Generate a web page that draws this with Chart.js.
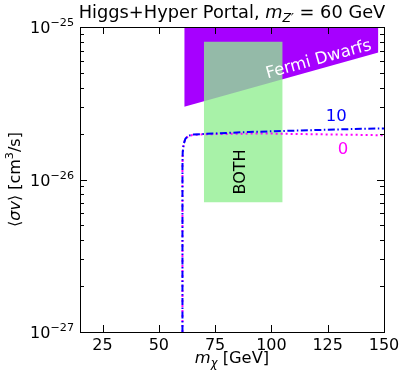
<!DOCTYPE html>
<html>
<head>
    <title>Higgs+Hyper Portal</title>
    <script src="https://cdn.jsdelivr.net/npm/chart.js"></script>
    <style>
        body { margin: 0; background: #fff; }
        #wrap { width: 407px; height: 381px; }
    </style>
</head>
<body>
<div id="wrap"><canvas id="chart"></canvas></div>
<script>
    // dark matter mass grid for the relic curves [GeV]
    const curveMass = [60.5, 60.5, 60.6, 61.0, 61.8, 63.0, 65.0, 70, 80, 90, 100, 110, 120, 130, 140, 150];
    // <sigma v> for kinetic mixing 10 (blue) and 0 (magenta) [cm^3/s]
    const sigmaV10 = [1e-27, 1.2e-26, 1.5e-26, 1.7e-26, 1.85e-26, 1.93e-26, 1.97e-26, 1.99e-26, 2.02e-26, 2.05e-26, 2.07e-26, 2.09e-26, 2.11e-26, 2.13e-26, 2.15e-26, 2.16e-26];
    const sigmaV0  = [1e-27, 1.2e-26, 1.5e-26, 1.7e-26, 1.85e-26, 1.92e-26, 1.96e-26, 1.98e-26, 1.99e-26, 2.0e-26, 2.0e-26, 1.99e-26, 1.98e-26, 1.97e-26, 1.96e-26, 1.95e-26];

    // Fermi dwarfs exclusion lower boundary
    const fermiMass = [61.3, 147.5];
    const fermiLimit = [3.0e-26, 6.8e-26];

    // region allowed by both constraints
    const bothMass = [70, 105];
    const bothLow = 7.1e-27;
    const bothHigh = 8.0e-26;

    const xTicks = [25, 50, 75, 100, 125, 150];
    const yMajor = [1e-27, 1e-26, 1e-25];
    const yExp = ['\u221227', '\u221226', '\u221225'];

    const FONT = 'DejaVu Sans';

    function pts(xs, ys) {
        return xs.map((x, i) => ({x: x, y: ys[i]}));
    }

    // draw a sequence of [text, style] pieces; style: 'n' normal, 'i' italic, 'sub', 'sup', 'isub'
    function drawRich(ctx, pieces, x, y, size, align) {
        const fontFor = s => {
            const small = (s === 'sub' || s === 'sup' || s === 'isub') ? size * 0.7 : size;
            const ital = (s === 'i' || s === 'isub') ? 'italic ' : '';
            return ital + small + 'px "' + FONT + '"';
        };
        let total = 0;
        pieces.forEach(p => { ctx.font = fontFor(p[1]); total += ctx.measureText(p[0]).width; });
        let cx = align === 'center' ? x - total / 2 : (align === 'right' ? x - total : x);
        ctx.textAlign = 'left';
        ctx.textBaseline = 'alphabetic';
        pieces.forEach(p => {
            ctx.font = fontFor(p[1]);
            let dy = 0;
            if (p[1] === 'sub' || p[1] === 'isub') dy = size * 0.25;
            if (p[1] === 'sup') dy = -size * 0.42;
            ctx.fillText(p[0], cx, y + dy);
            cx += ctx.measureText(p[0]).width;
        });
    }

    const decor = {
        id: 'decor',
        afterDatasetsDraw(chart) {
            const ctx = chart.ctx;
            const a = chart.chartArea;
            const xs = chart.scales.x, ys = chart.scales.y;
            ctx.save();

            // annotations in data coordinates
            ctx.fillStyle = '#fff';
            ctx.font = '16.5px "' + FONT + '"';
            ctx.textAlign = 'center';
            ctx.textBaseline = 'middle';
            ctx.save();
            ctx.translate(xs.getPixelForValue(121), ys.getPixelForValue(6.1e-26));
            ctx.rotate(-15.5 * Math.PI / 180);
            ctx.fillText('Fermi Dwarfs', 0, 0);
            ctx.restore();

            ctx.font = '16px "' + FONT + '"';
            ctx.fillStyle = '#000';
            ctx.save();
            ctx.translate(xs.getPixelForValue(86.5), ys.getPixelForValue(1.12e-26));
            ctx.rotate(-Math.PI / 2);
            ctx.fillText('BOTH', 0, 0);
            ctx.restore();

            ctx.font = '16.5px "' + FONT + '"';
            ctx.fillStyle = '#0000ff';
            ctx.fillText('10', xs.getPixelForValue(128.8), ys.getPixelForValue(2.57e-26));
            ctx.fillStyle = '#ff00ff';
            ctx.fillText('0', xs.getPixelForValue(131.8), ys.getPixelForValue(1.56e-26));

            // frame
            ctx.strokeStyle = '#000';
            ctx.lineWidth = 1;
            ctx.strokeRect(Math.round(a.left) + 0.5, Math.round(a.top) + 0.5,
                Math.round(a.right - a.left), Math.round(a.bottom - a.top));

            // inward ticks
            ctx.beginPath();
            xTicks.forEach(v => {
                const px = Math.round(xs.getPixelForValue(v)) + 0.5;
                ctx.moveTo(px, a.bottom); ctx.lineTo(px, a.bottom - 7);
                ctx.moveTo(px, a.top); ctx.lineTo(px, a.top + 7);
            });
            yMajor.forEach((v, i) => {
                const py = Math.round(ys.getPixelForValue(v)) + 0.5;
                ctx.moveTo(a.left, py); ctx.lineTo(a.left + 7, py);
                ctx.moveTo(a.right, py); ctx.lineTo(a.right - 7, py);
                if (i < yMajor.length - 1) {
                    for (let m = 2; m <= 9; m++) {
                        const pm = Math.round(ys.getPixelForValue(v * m)) + 0.5;
                        ctx.moveTo(a.left, pm); ctx.lineTo(a.left + 4, pm);
                        ctx.moveTo(a.right, pm); ctx.lineTo(a.right - 4, pm);
                    }
                }
            });
            ctx.stroke();

            // y tick labels 10^n
            ctx.fillStyle = '#000';
            yMajor.forEach((v, i) => {
                const py = ys.getPixelForValue(v);
                drawRich(ctx, [['10', 'n'], [yExp[i], 'sup']], a.left - 6, py + 6, 16, 'right');
            });

            // title
            drawRich(ctx, [['Higgs+Hyper Portal, ', 'n'], ['m', 'i'], ['Z\u2032', 'isub'], [' = 60 GeV', 'n']],
                (a.left + a.right) / 2, 18, 17.8, 'center');

            // x axis title
            drawRich(ctx, [['m', 'i'], ['\u03c7', 'isub'], [' [GeV]', 'n']],
                (a.left + a.right) / 2, 363, 16.3, 'center');

            // y axis title
            ctx.save();
            ctx.translate(20, (a.top + a.bottom) / 2);
            ctx.rotate(-Math.PI / 2);
            drawRich(ctx, [['\u27e8', 'n'], ['\u03c3v', 'i'], ['\u27e9 [cm', 'n'], ['3', 'sup'], ['/s]', 'n']],
                0, 0, 16, 'center');
            ctx.restore();

            ctx.restore();
        }
    };

    new Chart(document.getElementById('chart'), {
        type: 'line',
        data: {
            datasets: [
                {
                    label: 'Fermi Dwarfs',
                    data: pts(fermiMass, fermiLimit),
                    borderWidth: 0,
                    pointRadius: 0,
                    backgroundColor: '#a600ff',
                    fill: 'end',
                    order: 4
                },
                {
                    label: 'BOTH',
                    data: pts(bothMass, [bothLow, bothLow]),
                    borderWidth: 0,
                    pointRadius: 0,
                    backgroundColor: 'rgba(144, 238, 144, 0.78)',
                    fill: {target: {value: bothHigh}},
                    order: 3
                },
                {
                    label: '0',
                    data: pts(curveMass, sigmaV0),
                    borderColor: '#ff00ff',
                    borderWidth: 2,
                    borderDash: [2, 3],
                    pointRadius: 0,
                    tension: 0,
                    fill: false,
                    order: 2
                },
                {
                    label: '10',
                    data: pts(curveMass, sigmaV10),
                    borderColor: '#0000ff',
                    borderWidth: 2,
                    borderDash: [7, 2.5, 1.5, 2.5],
                    pointRadius: 0,
                    tension: 0,
                    fill: false,
                    order: 1
                }
            ]
        },
        options: {
            responsive: true,
            maintainAspectRatio: false,
            animation: false,
            layout: {padding: {top: 27, right: 23, left: 0, bottom: 0}},
            plugins: {
                legend: {display: false},
                tooltip: {enabled: false}
            },
            scales: {
                x: {
                    type: 'linear',
                    min: 15,
                    max: 150,
                    grid: {display: false, drawTicks: false},
                    border: {display: false},
                    afterBuildTicks: s => { s.ticks = xTicks.map(v => ({value: v})); },
                    afterFit: s => { s.height = 49; },
                    ticks: {
                        color: '#000',
                        padding: 4,
                        maxRotation: 0,
                        font: {family: FONT, size: 16}
                    }
                },
                y: {
                    type: 'logarithmic',
                    min: 1e-27,
                    max: 1e-25,
                    grid: {display: false, drawTicks: false},
                    border: {display: false},
                    afterBuildTicks: s => { s.ticks = yMajor.map(v => ({value: v})); },
                    afterFit: s => { s.width = 80; },
                    ticks: {display: false}
                }
            }
        },
        plugins: [decor]
    });
</script>
</body>
</html>
